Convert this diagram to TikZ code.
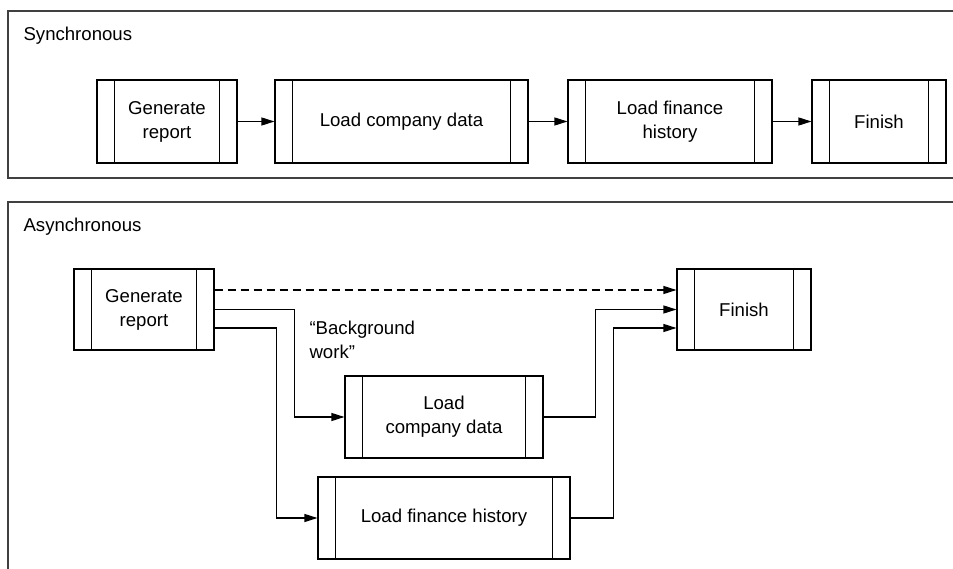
\documentclass[tikz,border=0pt]{standalone}
\usepackage{fontspec}
\setmainfont{Liberation Sans}
\usetikzlibrary{arrows.meta}

\begin{document}
\begin{tikzpicture}[x=1pt,y=-1pt,>={Triangle[length=13pt,width=8pt]},line width=1.1pt,font=\fontsize{18.6}{24}\selectfont]
\tikzset{task/.style={draw,inner sep=0pt,align=center,minimum height=83pt},
  frame/.style={draw=black!75,line width=1.3pt},
  caption/.style={anchor=west,inner sep=0pt,align=left}}
\useasboundingbox (0,0) rectangle (953,569);
% frames
\draw[frame] (960,11) -- (8,11) -- (8,178) -- (960,178);
\draw[frame] (960,202) -- (8,202) -- (8,580);
\node[caption] (sync) at (23,36) {Synchronous};
\node[caption] (async) at (23,227) {Asynchronous};
% synchronous
\node[task,minimum width=140pt] (gr1) at (167,121.5) {Generate\\report};
\node[task,minimum width=253pt] (lcd1) at (401.5,121.5) {Load company data};
\node[task,minimum width=204pt] (lfh1) at (670,121.5) {Load finance\\history};
\node[task,minimum width=134pt] (fin1) at (879,121.5) {Finish};
\path[->] (gr1) edge (lcd1);
\path[->] (lcd1) edge (lfh1);
\path[->] (lfh1) edge (fin1);
% asynchronous
\node[task,minimum width=140pt,minimum height=81pt] (gr2) at (144,309.5) {Generate\\report};
\node[task,minimum width=134pt,minimum height=81pt] (fin2) at (744,309.5) {Finish};
\node[task,minimum width=198pt,minimum height=82pt] (lcd2) at (444,417) {Load\\company data};
\node[task,minimum width=252pt,minimum height=82pt] (lfh2) at (444,518) {Load finance history};
\node[caption] (bg) at (309,340) {``Background\\work''};
\draw[->,dash pattern=on 8pt off 5pt] ([yshift=19.5pt]gr2.east) -- ([yshift=19.5pt]fin2.west);
\draw[->] (gr2.east) -- ++(80,0) |- (lcd2.west);
\draw[->] ([yshift=-18.5pt]gr2.east) -- ++(62,0) |- (lfh2.west);
\draw[->] (lcd2.east) -- ++(52,0) |- (fin2.west);
\draw[->] (lfh2.east) -- ++(43,0) |- ([yshift=-18.5pt]fin2.west);
% side strips
\foreach \n in {gr1,lcd1,lfh1,fin1,gr2,lcd2,lfh2,fin2}
  \draw ([xshift=18pt]\n.north west) -- ([xshift=18pt]\n.south west)
        ([xshift=-18pt]\n.north east) -- ([xshift=-18pt]\n.south east);
\end{tikzpicture}
\end{document}
